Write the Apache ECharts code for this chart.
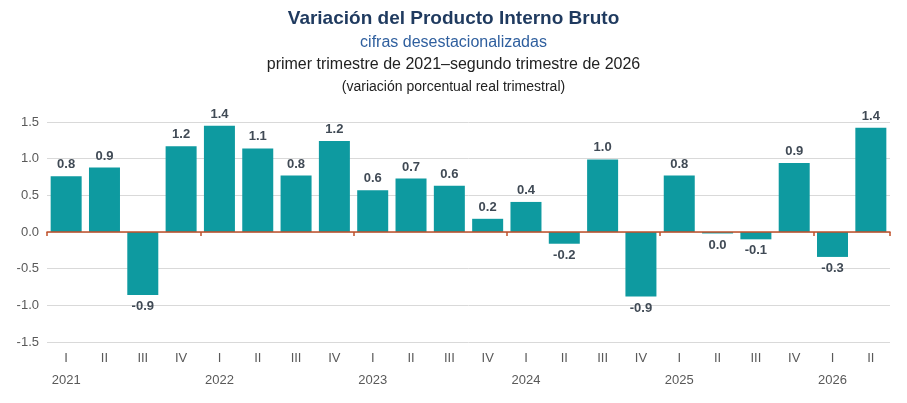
<!DOCTYPE html>
<html lang="es">
<head>
  <meta charset="UTF-8">
  <title>PIB</title>
  <style>
    html, body { margin: 0; padding: 0; background: #fff; }
    #chart { width: 907px; height: 403px; }
  </style>
</head>
<body>
<div id="chart"></div>
<script src="https://cdn.jsdelivr.net/npm/echarts@6/dist/echarts.min.js"></script>
<script>
  // datos
  const quarters = ['I', 'II', 'III', 'IV', 'I', 'II', 'III', 'IV', 'I', 'II', 'III', 'IV',
    'I', 'II', 'III', 'IV', 'I', 'II', 'III', 'IV', 'I', 'II'];
  const years = ['2021', '', '', '', '2022', '', '', '', '2023', '', '', '', '2024', '', '', '',
    '2025', '', '', '', '2026', ''];
  const values = [0.76, 0.88, -0.86, 1.17, 1.45, 1.14, 0.77, 1.24, 0.57, 0.73, 0.63, 0.18,
    0.41, -0.16, 0.99, -0.88, 0.77, -0.02, -0.1, 0.94, -0.34, 1.42];
  const labels = ['0.8', '0.9', '-0.9', '1.2', '1.4', '1.1', '0.8', '1.2', '0.6', '0.7', '0.6', '0.2',
    '0.4', '-0.2', '1.0', '-0.9', '0.8', '0.0', '-0.1', '0.9', '-0.3', '1.4'];

  const chart = echarts.init(document.getElementById('chart'));
  const grid = { left: 47, right: 17, top: 122, bottom: 61 };

  chart.setOption({
    animation: false,
    title: [
      { text: 'Variación del Producto Interno Bruto', left: 'center', top: 4,
        textStyle: { fontFamily: 'Arial, Liberation Sans', fontSize: 19, fontWeight: 'bold', color: '#1f3a5f' } },
      { text: 'cifras desestacionalizadas', left: 'center', top: 30,
        textStyle: { fontFamily: 'Arial, Liberation Sans', fontSize: 16, fontWeight: 'normal', color: '#2f5f9e' } },
      { text: 'primer trimestre de 2021–segundo trimestre de 2026', left: 'center', top: 52,
        textStyle: { fontFamily: 'Arial, Liberation Sans', fontSize: 16, fontWeight: 'normal', color: '#222' } },
      { text: '(variación porcentual real trimestral)', left: 'center', top: 75,
        textStyle: { fontFamily: 'Arial, Liberation Sans', fontSize: 14, fontWeight: 'normal', color: '#222' } }
    ],
    grid: grid,
    xAxis: [
      { type: 'category', data: quarters,
        axisLine: { onZero: true, lineStyle: { color: '#c0502a', width: 1.5 } },
        axisTick: { show: true, interval: function (i) { return i % 4 === 0; }, length: 4, inside: false,
          lineStyle: { color: '#c0502a', width: 1.5 } },
        axisLabel: { show: false }, z: 10 },
      { type: 'category', data: quarters, position: 'bottom',
        axisLine: { show: false }, axisTick: { show: false },
        axisLabel: { interval: 0, color: '#595959', fontSize: 13, fontFamily: 'Arial, Liberation Sans', margin: 10 } },
      { type: 'category', data: years, position: 'bottom', offset: 22,
        axisLine: { show: false }, axisTick: { show: false },
        axisLabel: { interval: 0, color: '#595959', fontSize: 13, fontFamily: 'Arial, Liberation Sans', margin: 10 } }
    ],
    yAxis: {
      type: 'value', min: -1.5, max: 1.5, interval: 0.5,
      axisLine: { show: false }, axisTick: { show: false },
      axisLabel: { color: '#595959', fontSize: 13, fontFamily: 'Arial, Liberation Sans',
        formatter: function (v) { return v.toFixed(1); } },
      splitLine: { lineStyle: { color: '#d9d9d9' } }
    },
    series: [{
      type: 'bar', data: values, barWidth: 31, xAxisIndex: 0,
      itemStyle: { color: '#0e9aa0' },
      label: {
        show: true, fontSize: 13, fontWeight: 'bold', color: '#404a55',
        fontFamily: 'Arial, Liberation Sans',
        position: 'top',
        formatter: function (p) { return labels[p.dataIndex]; }
      },
      labelLayout: function (p) {
        return {};
      }
    }]
  });

  // etiquetas de valores negativos debajo de la barra
  chart.setOption({
    series: [{
      data: values.map(function (v) {
        return v < 0 ? { value: v, label: { position: 'bottom' } } : v;
      })
    }]
  });
</script>
</body>
</html>
